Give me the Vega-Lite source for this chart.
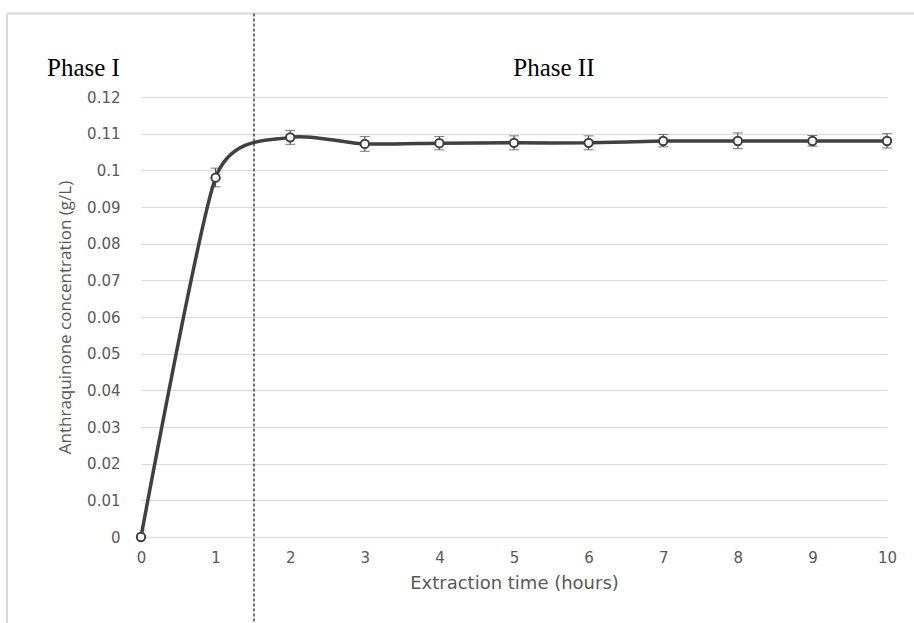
{
  "$schema": "https://vega.github.io/schema/vega-lite/v6.json",
  "width": 746,
  "height": 440,
  "autosize": "none",
  "padding": {"left": 141, "top": 97, "right": 27, "bottom": 86},
  "background": "white",
  "config": {"view": {"stroke": null}},
  "data": {"values": [
    {"t": 0, "c": 0, "lo": 0, "hi": 0},
    {"t": 1, "c": 0.098, "lo": 0.0955, "hi": 0.1006},
    {"t": 2, "c": 0.109, "lo": 0.1071, "hi": 0.1109},
    {"t": 3, "c": 0.1072, "lo": 0.1052, "hi": 0.1092},
    {"t": 4, "c": 0.1074, "lo": 0.1056, "hi": 0.1092},
    {"t": 5, "c": 0.1075, "lo": 0.1056, "hi": 0.1094},
    {"t": 6, "c": 0.1075, "lo": 0.1056, "hi": 0.1094},
    {"t": 7, "c": 0.108, "lo": 0.1064, "hi": 0.1098},
    {"t": 8, "c": 0.108, "lo": 0.1059, "hi": 0.1102},
    {"t": 9, "c": 0.108, "lo": 0.1066, "hi": 0.1095},
    {"t": 10, "c": 0.108, "lo": 0.1061, "hi": 0.1100}
  ]},
  "encoding": {
    "x": {
      "field": "t", "type": "quantitative",
      "scale": {"domain": [0, 10], "nice": false, "zero": false},
      "axis": {
        "title": "Extraction time (hours)",
        "values": [0,1,2,3,4,5,6,7,8,9,10],
        "format": "d",
        "grid": false, "domain": false, "ticks": false,
        "labelFlush": false,
        "labelFont": "DejaVu Sans", "labelFontSize": 15, "labelColor": "#595959",
        "labelPadding": 13,
        "titleFont": "DejaVu Sans", "titleFontSize": 18, "titleFontWeight": "normal", "titleColor": "#595959",
        "titlePadding": 9
      }
    },
    "y": {
      "field": "c", "type": "quantitative",
      "scale": {"domain": [0, 0.12], "nice": false},
      "axis": {
        "title": "Anthraquinone concentration (g/L)",
        "values": [0,0.01,0.02,0.03,0.04,0.05,0.06,0.07,0.08,0.09,0.1,0.11,0.12],
        "format": ".2~f",
        "grid": true, "gridColor": "#d9d9d9", "gridWidth": 1,
        "domain": false, "ticks": false,
        "labelFlush": false,
        "labelFont": "DejaVu Sans", "labelFontSize": 15, "labelColor": "#595959",
        "labelPadding": 21,
        "titleFont": "Open Sans", "titleFontSize": 17, "titleFontWeight": "normal", "titleColor": "#595959",
        "titlePadding": 12
      }
    }
  },
  "layer": [
    {
      "transform": [{"filter": "datum.t == 0"}],
      "mark": {"type": "rule", "color": "#d9d9d9", "strokeWidth": 2, "clip": false},
      "encoding": {
        "x": {"datum": -1.796},
        "x2": {"datum": 10.4},
        "y": {"datum": 0.1428}
      }
    },
    {
      "transform": [{"filter": "datum.t == 0"}],
      "mark": {"type": "rule", "color": "#d9d9d9", "strokeWidth": 2, "clip": false},
      "encoding": {
        "x": {"datum": -1.796},
        "y": {"datum": 0.1428},
        "y2": {"datum": -0.0240}
      }
    },
    {
      "transform": [{"filter": "datum.t == 0"}],
      "mark": {"type": "rule", "color": "#262626", "strokeWidth": 1.3, "strokeDash": [3, 2], "clip": false},
      "encoding": {
        "x": {"datum": 1.515},
        "y": {"datum": 0.1428},
        "y2": {"datum": -0.0240}
      }
    },
    {
      "transform": [{"filter": "datum.t == 0"}],
      "mark": {"type": "text", "font": "Liberation Serif", "fontSize": 25, "fontWeight": "normal", "align": "left", "baseline": "alphabetic", "fill": "black", "clip": false},
      "encoding": {
        "x": {"datum": -1.26},
        "y": {"datum": 0.1256},
        "text": {"value": "Phase I"}
      }
    },
    {
      "transform": [{"filter": "datum.t == 0"}],
      "mark": {"type": "text", "font": "Liberation Serif", "fontSize": 25, "fontWeight": "normal", "align": "left", "baseline": "alphabetic", "fill": "black", "clip": false},
      "encoding": {
        "x": {"datum": 4.99},
        "y": {"datum": 0.1256},
        "text": {"value": "Phase II"}
      }
    },
    {
      "transform": [{"filter": "datum.t > 0"}],
      "mark": {"type": "errorbar", "ticks": {"size": 10, "color": "#404040"}, "rule": {"color": "#404040", "strokeWidth": 1}},
      "encoding": {
        "y": {"field": "lo", "type": "quantitative"},
        "y2": {"field": "hi"}
      }
    },
    {
      "mark": {"type": "line", "interpolate": "cardinal", "tension": 0.35, "color": "#404040", "strokeWidth": 3.5}
    },
    {
      "mark": {"type": "point", "shape": "circle", "filled": false, "fill": "white", "stroke": "#404040", "strokeWidth": 2, "size": 70, "opacity": 1}
    }
  ]
}
